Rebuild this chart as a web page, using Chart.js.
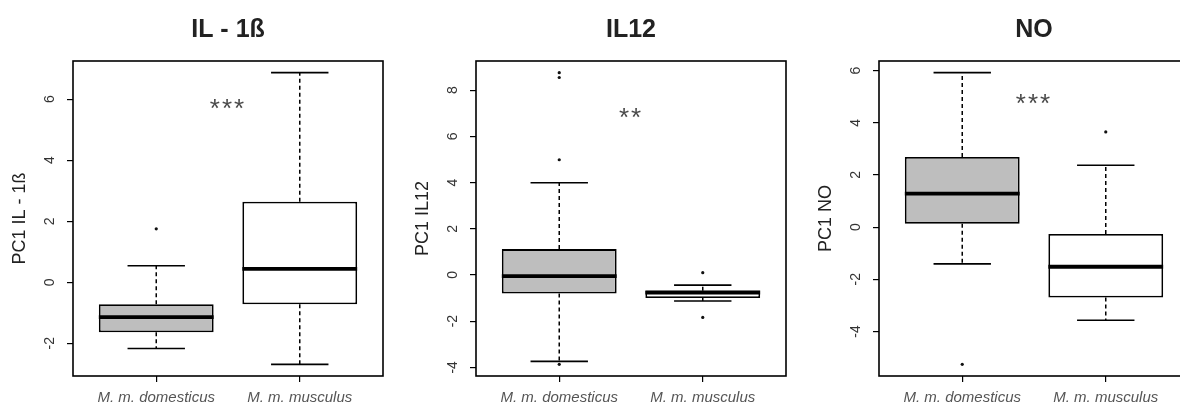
<!DOCTYPE html>
<html>
<head>
<meta charset="utf-8">
<script src="https://cdn.jsdelivr.net/npm/chart.js@4/dist/chart.umd.min.js"></script>
<style>
  html, body { margin: 0; padding: 0; background: #fff; width: 1180px; height: 406px; overflow: hidden; }
  .panel { position: absolute; top: 0; width: 403px; height: 406px; }
</style>
</head>
<body>
<div class="panel" style="left:0px"><canvas id="il1b" width="403" height="406"></canvas></div>
<div class="panel" style="left:403px"><canvas id="il12" width="403" height="406"></canvas></div>
<div class="panel" style="left:806px"><canvas id="no" width="403" height="406"></canvas></div>
<script>
const groups = ["M. m. domesticus", "M. m. musculus"];

// IL - 1ß
const il1bLow      = [-2.17, -2.69];
const il1bQ1       = [-1.64, -0.72];
const il1bMedian   = [-1.14,  0.44];
const il1bQ3       = [-0.72,  2.64];
const il1bHigh     = [ 0.54,  6.87];
const il1bOutliers = [[1.75], []];
const il1bTicks    = [-2, 0, 2, 4, 6];

// IL12
const il12Low      = [-3.74, -1.13];
const il12Q1       = [-0.80, -1.00];
const il12Median   = [-0.05, -0.76];
const il12Q3       = [ 1.12, -0.68];
const il12High     = [ 3.99, -0.44];
const il12Outliers = [[4.99, 8.55, 8.76, -3.87], [0.1, -1.84]];
const il12Ticks    = [-4, -2, 0, 2, 4, 6, 8];

// NO
const noLow        = [-1.41, -3.57];
const noQ1         = [ 0.13, -2.70];
const noMedian     = [ 1.28, -1.52];
const noQ3         = [ 2.69, -0.26];
const noHigh       = [ 5.92,  2.37];
const noOutliers   = [[-5.26], [3.65]];
const noTicks      = [-4, -2, 0, 2, 4, 6];

Chart.defaults.font.family = "'Liberation Sans', Arial, sans-serif";

// whiskers, caps, medians, frame and significance stars
function boxParts (stats) {
  return {
    id: "boxParts",
    afterDatasetsDraw (chart) {
      const { ctx, chartArea, scales: { x, y } } = chart;
      const bars = chart.getDatasetMeta(0).data;
      ctx.save();
      ctx.strokeStyle = "#000";
      bars.forEach((bar, i) => {
        const w = bar.width;
        const xc = bar.x;
        // dashed whiskers
        ctx.lineWidth = 1.5;
        ctx.setLineDash([4, 3]);
        ctx.beginPath();
        ctx.moveTo(xc, y.getPixelForValue(stats.q3[i]));
        ctx.lineTo(xc, y.getPixelForValue(stats.high[i]));
        ctx.moveTo(xc, y.getPixelForValue(stats.q1[i]));
        ctx.lineTo(xc, y.getPixelForValue(stats.low[i]));
        ctx.stroke();
        // caps
        ctx.setLineDash([]);
        ctx.lineWidth = 1.6;
        ctx.beginPath();
        [stats.high[i], stats.low[i]].forEach(v => {
          const py = y.getPixelForValue(v);
          ctx.moveTo(xc - w / 4, py);
          ctx.lineTo(xc + w / 4, py);
        });
        ctx.stroke();
        // median
        ctx.lineWidth = 3.8;
        ctx.beginPath();
        const my = y.getPixelForValue(stats.median[i]);
        ctx.moveTo(xc - w / 2, my);
        ctx.lineTo(xc + w / 2, my);
        ctx.stroke();
      });
      // frame
      ctx.lineWidth = 1.6;
      ctx.strokeRect(chartArea.left, chartArea.top, chartArea.right - chartArea.left, chartArea.bottom - chartArea.top);
      // stars
      ctx.fillStyle = "#4a4a4a";
      ctx.font = "26px 'Liberation Sans', Arial, sans-serif";
      ctx.letterSpacing = "2px";
      ctx.textAlign = "center";
      ctx.textBaseline = "alphabetic";
      ctx.fillText(stats.stars, x.getPixelForValue(1.5), y.getPixelForValue(stats.starY) + 15);
      ctx.restore();
    }
  };
}

function drawPanel (id, title, axisTitle, low, q1, median, q3, high, outliers, ticks, stars, starY) {
  const values = low.concat(high, outliers.flat());
  const lo = Math.min.apply(null, values);
  const hi = Math.max.apply(null, values);
  const ext = (hi - lo) * 0.04;
  const n = groups.length;

  const boxData = groups.map((g, i) => ({ x: i + 1, y: [q1[i], q3[i]] }));
  const outlierData = [];
  outliers.forEach((vals, i) => vals.forEach(v => outlierData.push({ x: i + 1, y: v })));

  new Chart(document.getElementById(id), {
    type: "bar",
    data: {
      datasets: [{
        type: "bar",
        data: boxData,
        backgroundColor: ["#bebebe", "#ffffff"],
        borderColor: "#000",
        borderWidth: 1.8,
        borderSkipped: false,
        barPercentage: 0.8,
        categoryPercentage: 1
      }, {
        type: "scatter",
        data: outlierData,
        pointRadius: 1.6,
        pointBackgroundColor: "#111",
        pointBorderWidth: 0
      }]
    },
    options: {
      responsive: false,
      animation: false,
      events: [],
      layout: { padding: { left: 0, right: 20, top: 0, bottom: 0 } },
      plugins: {
        legend: { display: false },
        tooltip: { enabled: false },
        title: {
          display: true,
          text: title,
          fullSize: false,
          color: "#222",
          font: { size: 25, weight: "bold" },
          padding: { top: 15, bottom: 16 }
        }
      },
      scales: {
        x: {
          type: "linear",
          min: 0.5 - 0.04 * n,
          max: n + 0.5 + 0.04 * n,
          offset: false,
          afterBuildTicks: s => { s.ticks = groups.map((g, i) => ({ value: i + 1 })); },
          afterFit: s => { s.height = 30; },
          border: { display: false },
          grid: { offset: false, drawOnChartArea: false, drawTicks: true, tickLength: 6, color: "#000", lineWidth: 1.2 },
          ticks: {
            autoSkip: false,
            maxRotation: 0,
            padding: 7,
            color: "#555",
            font: { size: 15, style: "italic" },
            callback: (v, i) => groups[i]
          }
        },
        y: {
          type: "linear",
          min: lo - ext,
          max: hi + ext,
          afterBuildTicks: s => { s.ticks = ticks.map(v => ({ value: v })); },
          afterFit: s => { s.width = 73; },
          border: { display: false },
          grid: { drawOnChartArea: false, drawTicks: true, tickLength: 6, color: "#000", lineWidth: 1.2 },
          ticks: {
            minRotation: 90,
            maxRotation: 90,
            crossAlign: "center",
            padding: 11,
            color: "#333",
            font: { size: 14 }
          },
          title: {
            display: true,
            text: axisTitle,
            color: "#222",
            font: { size: 18 },
            padding: { top: 9, bottom: 0 }
          }
        }
      }
    },
    plugins: [boxParts({ low, q1, median, q3, high, stars, starY })]
  });
}

drawPanel("il1b", "IL - 1ß", "PC1 IL - 1ß", il1bLow, il1bQ1, il1bMedian, il1bQ3, il1bHigh, il1bOutliers, il1bTicks, "***", 5.9);
drawPanel("il12", "IL12", "PC1 IL12", il12Low, il12Q1, il12Median, il12Q3, il12High, il12Outliers, il12Ticks, "**", 7.1);
drawPanel("no", "NO", "PC1 NO", noLow, noQ1, noMedian, noQ3, noHigh, noOutliers, noTicks, "***", 5.0);
</script>
</body>
</html>
